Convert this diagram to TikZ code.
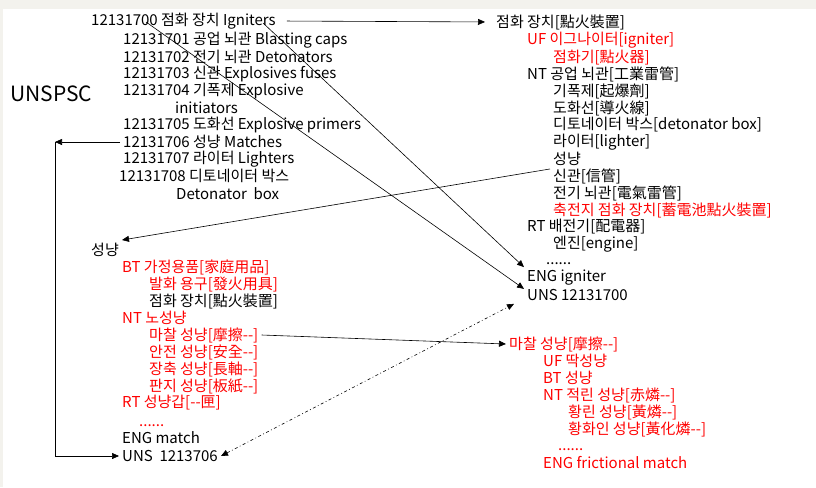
\documentclass[tikz,border=0pt]{standalone}
\usepackage{fontspec}
\setmainfont{Noto Sans CJK KR}[Ligatures=TeXOff]
\usetikzlibrary{arrows.meta}
\definecolor{paper}{RGB}{243,242,237}
\tikzset{
  term/.style={anchor=west, inner sep=3pt},
  redterm/.style={term, text=red},
  dotsline/.style={term, inner ysep=0pt, text height=1.5pt, text depth=0pt},
  link/.style={line width=0.6pt, -{Triangle[length=7pt,width=6pt]}},
  seealso/.style={line width=0.6pt, {Triangle[length=7pt,width=6pt]}-{Triangle[length=7pt,width=6pt]},
    dash pattern=on 3pt off 2.5pt on 0.8pt off 2.5pt},
}
\begin{document}
\begin{tikzpicture}[x=1pt,y=-1pt]
                    % page
                    \fill[paper] (0,0) rectangle (816,487);
                    \fill[white] (3,9) rectangle (816,487);
                    \useasboundingbox (0,0) rectangle (816,487);
                    {\fontsize{15}{17}\selectfont

                    % Marking label UNSPSC
                    \node[term, font=\fontsize{21}{23}\selectfont] (unspsc) at (7,94) {UNSPSC};

                    % Marking UNSPSC codes
                    \node[term] (c00) at (88,21) {12131700 점화 장치 Igniters};
                    \node[term] (c01) at (120,40) {12131701 공업 뇌관 Blasting caps};
                    \node[term] (c02) at (120,57) {12131702 전기 뇌관 Detonators};
                    \node[term] (c03) at (120,74) {12131703 신관 Explosives fuses};
                    \node[term] (c04) at (120,91) {12131704 기폭제 Explosive};
                    \node[term] (c04b) at (172,108) {initiators};
                    \node[term] (c05) at (120,125) {12131705 도화선 Explosive primers};
                    \node[term] (c06) at (120,142) {12131706 성냥 Matches};
                    \node[term] (c07) at (120,159) {12131707 라이터 Lighters};
                    \node[term] (c08) at (116,176) {12131708 디토네이터 박스};
                    \node[term] (c08b) at (173,194) {Detonator~~box};

                    % Marking thesaurus entry 점화 장치
                    \node[term] (ign) at (493,22) {점화 장치[點火裝置]};
                    \node[redterm] (ignuf) at (524,40) {UF 이그나이터[igniter]};
                    \node[redterm] (ignuf2) at (550,57) {점화기[點火器]};
                    \node[term] (ignnt) at (524,74) {NT 공업 뇌관[工業雷管]};
                    \node[term] (ignnt2) at (550,91) {기폭제[起爆劑]};
                    \node[term] (ignnt3) at (550,108) {도화선[導火線]};
                    \node[term] (ignnt4) at (550,125) {디토네이터 박스[detonator box]};
                    \node[term] (ignnt5) at (550,142) {라이터[lighter]};
                    \node[term] (ignmatch) at (550,159) {성냥};
                    \node[term] (ignnt7) at (550,176) {신관[信管]};
                    \node[term] (ignnt8) at (550,193) {전기 뇌관[電氣雷管]};
                    \node[redterm] (ignnt9) at (550,210) {축전지 점화 장치[蓄電池點火裝置]};
                    \node[term] (ignrt) at (524,227) {RT 배전기[配電器]};
                    \node[term] (ignrt2) at (550,244) {엔진[engine]};
                    \node[dotsline] (igndots) at (543,264) {......};
                    \node[term] (igneng) at (524,278) {ENG igniter};
                    \node[term] (ignuns) at (524,295) {UNS 12131700};

                    % Marking thesaurus entry 성냥
                    \node[term] (match) at (88,250) {성냥};
                    \node[redterm] (matchbt) at (119,267) {BT 가정용품[家庭用品]};
                    \node[redterm] (matchbt2) at (146,284) {발화 용구[發火用具]};
                    \node[term] (matchbt3) at (146,301) {점화 장치[點火裝置]};
                    \node[redterm] (matchnt) at (119,318) {NT 노성냥};
                    \node[redterm] (matchfr) at (146,335) {마찰 성냥[摩擦--]};
                    \node[redterm] (matchnt2) at (146,352) {안전 성냥[安全--]};
                    \node[redterm] (matchnt3) at (146,369) {장축 성냥[長軸--]};
                    \node[redterm] (matchnt4) at (146,386) {판지 성냥[板紙--]};
                    \node[redterm] (matchrt) at (119,403) {RT 성냥갑[--匣]};
                    \node[dotsline, text=red] (matchdots) at (136,426) {......};
                    \node[term] (matcheng) at (119,438) {ENG match};
                    \node[term] (matchuns) at (119,456) {UNS~~1213706};

                    % Marking thesaurus entry 마찰 성냥
                    \node[redterm] (fric) at (506,344) {마찰 성냥[摩擦--]};
                    \node[redterm] (fricuf) at (540,361) {UF 딱성냥};
                    \node[redterm] (fricbt) at (540,378) {BT 성냥};
                    \node[redterm] (fricnt) at (540,395) {NT 적린 성냥[赤燐--]};
                    \node[redterm] (fricnt2) at (565,412) {황린 성냥[黃燐--]};
                    \node[redterm] (fricnt3) at (565,429) {황화인 성냥[黃化燐--]};
                    \node[dotsline, text=red] (fricdots) at (555,450) {......};
                    \node[redterm] (friceng) at (540,463) {ENG frictional match};

                    % Drawing links
                    \coordinate (from00) at (146,22);
                    \coordinate (fromign) at (263,23);
                    \coordinate (bend) at (55,142);
                    \draw[link, shorten <=8pt, shorten >=8pt] (c00.east) -- (ign.west);
                    \draw[link] (from00) -- (igneng.south west);
                    \draw[link] (fromign) -- (igneng.north west);
                    \draw[link] (ignmatch.south west) -- (match.north east);
                    \draw[link] (c06.west) -- (bend);
                    \draw[link] (bend) |- (matchuns.west);
                    \draw[link] (matchfr.east) -- (fric.west);
                    \draw[seealso] (matchuns.east) -- ([xshift=-10pt]ignuns.south west);
                    }
\end{tikzpicture}
\end{document}
